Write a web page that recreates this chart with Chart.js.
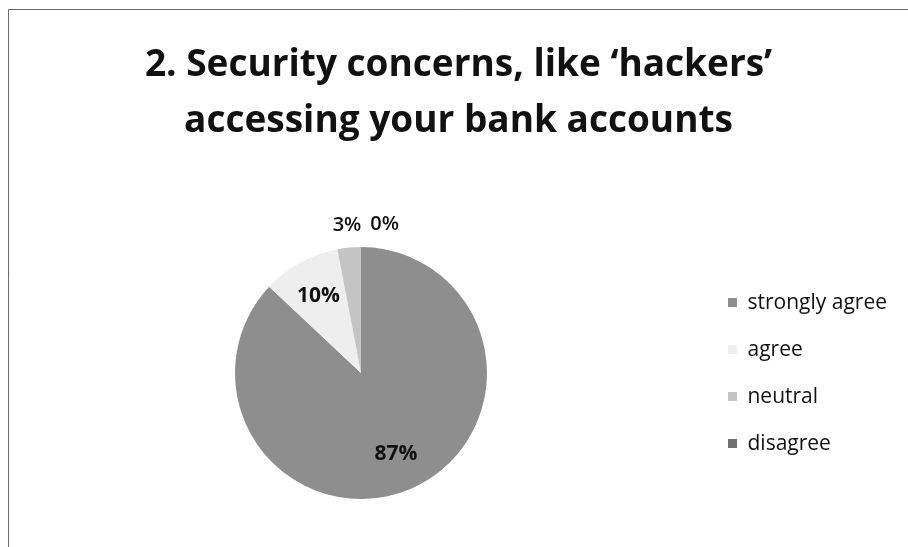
<!DOCTYPE html>
<html>
<head>
<meta charset="utf-8">
<script src="https://cdn.jsdelivr.net/npm/chart.js@4/dist/chart.umd.min.js"></script>
<style>
  html, body { margin: 0; padding: 0; background: #ffffff; }
  #wrap { width: 908px; height: 547px; }
</style>
</head>
<body>
<div id="wrap"><canvas id="c" width="908" height="547"></canvas></div>
<script>
const titleLines = ["2. Security concerns, like \u2018hackers\u2019", "accessing your bank accounts"];
const categories = ["strongly agree", "agree", "neutral", "disagree"];
const percentValues = [87, 10, 3, 0];
const sliceColors = ["#8e8e8e", "#eeeeee", "#c4c4c4", "#6e6e6e"];

const FONT = "'Open Sans', 'DejaVu Sans', sans-serif";

const framePlugin = {
  id: 'frame',
  beforeDraw(chart) {
    const ctx = chart.ctx;
    ctx.save();
    ctx.fillStyle = '#ffffff';
    ctx.fillRect(0, 0, chart.width, chart.height);
    ctx.strokeStyle = '#6a6a6a';
    ctx.lineWidth = 1;
    ctx.beginPath();
    ctx.moveTo(8.5, chart.height);
    ctx.lineTo(8.5, 9.5);
    ctx.lineTo(chart.width, 9.5);
    ctx.stroke();
    ctx.restore();
  }
};

const labelPlugin = {
  id: 'sliceLabels',
  afterDatasetsDraw(chart) {
    const ctx = chart.ctx;
    const meta = chart.getDatasetMeta(0);
    const data = chart.data.datasets[0].data;
    ctx.save();
    ctx.textAlign = 'center';
    ctx.textBaseline = 'middle';
    ctx.fillStyle = '#111111';
    const outside = [];
    meta.data.forEach((arc, i) => {
      const p = arc.getProps(['x', 'y', 'startAngle', 'endAngle', 'outerRadius'], true);
      const mid = (p.startAngle + p.endAngle) / 2;
      const txt = data[i] + '%';
      if (data[i] >= 5) {
        ctx.font = "bold 21px " + FONT;
        const r = p.outerRadius * 0.7;
        ctx.fillText(txt, p.x + Math.cos(mid) * r, p.y + Math.sin(mid) * r);
      } else {
        ctx.font = "600 20px " + FONT;
        const r = p.outerRadius * 1.18;
        outside.push({ txt, x: p.x + Math.cos(mid) * r, y: p.y + Math.sin(mid) * r, w: ctx.measureText(txt).width });
      }
    });
    ctx.font = "600 20px " + FONT;
    outside.sort((a, b) => a.x - b.x);
    for (let k = 1; k < outside.length; k++) {
      const prev = outside[k - 1], cur = outside[k];
      const minDist = (prev.w + cur.w) / 2 + 9;
      if (cur.x - prev.x < minDist) cur.x = prev.x + minDist;
    }
    outside.forEach(o => ctx.fillText(o.txt, o.x, o.y));
    ctx.restore();
  }
};

new Chart(document.getElementById('c'), {
  type: 'pie',
  data: {
    labels: categories,
    datasets: [{
      data: percentValues,
      backgroundColor: sliceColors,
      borderWidth: 0
    }]
  },
  options: {
    responsive: false,
    animation: false,
    layout: { padding: { left: 20, right: 11, top: 0, bottom: 48 } },
    plugins: {
      title: {
        display: true,
        text: titleLines,
        color: '#111111',
        font: { family: FONT, size: 37, weight: 'bold', lineHeight: 1.514 },
        padding: { top: 37, bottom: 98 }
      },
      legend: {
        position: 'right',
        fullSize: false,
        labels: {
          boxWidth: 9,
          boxHeight: 9,
          padding: 26,
          color: '#111111',
          font: { family: FONT, size: 21 }
        }
      },
      tooltip: { enabled: false }
    }
  },
  plugins: [framePlugin, labelPlugin]
});
</script>
</body>
</html>
